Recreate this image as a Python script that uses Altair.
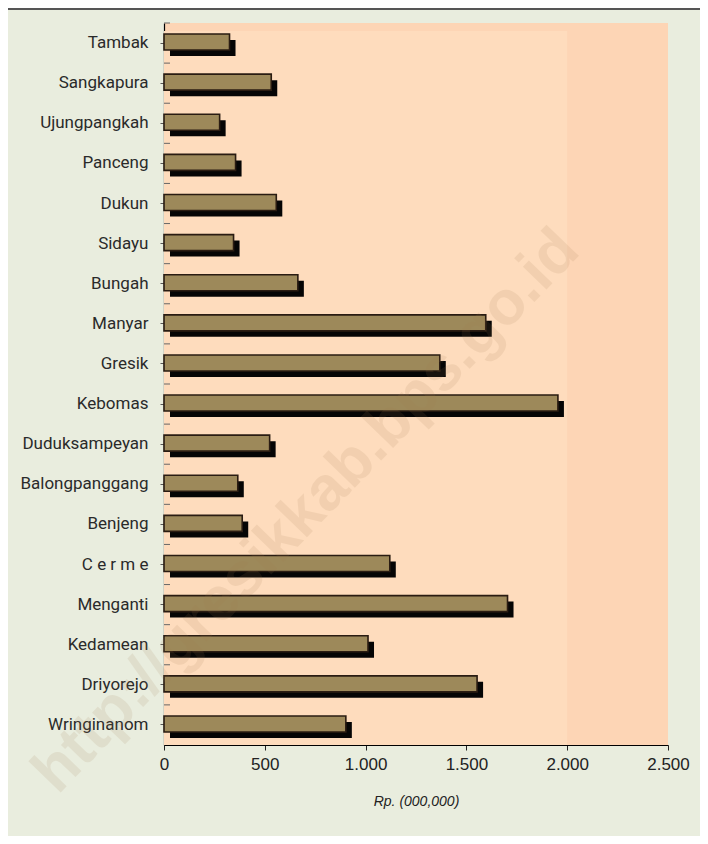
import altair as alt
import pandas as pd

categories = ["Tambak", "Sangkapura", "Ujungpangkah", "Panceng", "Dukun", "Sidayu",
              "Bungah", "Manyar", "Gresik", "Kebomas", "Duduksampeyan", "Balongpanggang",
              "Benjeng", "C e r m e", "Menganti", "Kedamean", "Driyorejo", "Wringinanom"]
values = [325, 532, 276, 355, 557, 345, 664, 1596, 1368, 1954, 524, 366, 388,
          1120, 1704, 1012, 1553, 902]
x_ticks = [0, 500, 1000, 1500, 2000, 2500]
light_zone = [0, 2000]

df = pd.DataFrame({"kec": categories, "val": values})
zone_df = pd.DataFrame({"a": [light_zone[0]], "b": [light_zone[1]]})

W, H = 504, 722

yscale = alt.Scale(domain=categories, paddingInner=0, paddingOuter=0)
xscale = alt.Scale(domain=[0, 2500], nice=False)

zone = alt.Chart(zone_df).mark_rect(color="#fedcbd").encode(
    x=alt.X("a:Q", scale=xscale),
    x2="b:Q",
    y=alt.value(8),
    y2=alt.value(H),
)

yaxis = alt.Axis(title=None, labelFont="Roboto", labelFontSize=17, labelFontWeight="normal",
                 labelColor="#2a2a2a",
                 tickSize=4, tickColor="#555", domainColor="#000", domainWidth=1.2,
                 labelPadding=12)
xaxis = alt.Axis(values=x_ticks, title="Rp. (000,000)", titleFont="Liberation Sans",
                 titleFontStyle="italic", titleFontWeight="normal", titleFontSize=14,
                 titleColor="#222", titlePadding=22,
                 labelFont="Liberation Sans", labelFontSize=17, labelColor="#222",
                 labelFlush=False,
                 labelExpr="replace(format(datum.value, ','), ',', '.')",
                 tickSize=5, tickColor="#222", domainColor="#000", domainWidth=1.2,
                 grid=False, labelPadding=6)

shadow = alt.Chart(df).mark_bar(color="#050505", size=16, xOffset=6, yOffset=5).encode(
    x=alt.X("val:Q", scale=xscale, axis=xaxis),
    y=alt.Y("kec:N", sort=categories, scale=yscale, axis=yaxis),
)

front = alt.Chart(df).mark_bar(color="#9d895a", stroke="#2a1c12", strokeWidth=1.6,
                                size=16, yOffset=-1).encode(
    x=alt.X("val:Q", scale=xscale),
    y=alt.Y("kec:N", sort=categories, scale=yscale),
)

inner_ticks = alt.Chart(df).mark_rule(color="#666", strokeWidth=1).encode(
    y=alt.Y("kec:N", sort=categories, scale=yscale, bandPosition=0),
    x=alt.value(0),
    x2=alt.value(6),
)

top_line = alt.Chart(zone_df).mark_rule(color="#555", strokeWidth=2).encode(
    y=alt.value(-14), x=alt.value(-156), x2=alt.value(540)
)

watermark = alt.Chart(zone_df).mark_text(
    text="http://gresikkab.bps.go.id", font="Liberation Sans", fontWeight="bold",
    fontSize=62, angle=314, color="#a07a50", opacity=0.12, align="center", baseline="middle"
).encode(x=alt.value(142), y=alt.value(488))

chart = alt.layer(zone, shadow, front, inner_ticks, watermark, top_line).properties(
    width=W, height=H,
    background="#e9edde",
    padding={"left": 156, "top": 15, "right": 32, "bottom": 91},
    autosize=alt.AutoSizeParams(type="none"),
).configure_view(fill="#fdd5b5", stroke=None)

chart.save("out.html", embed_options={"renderer": "svg", "actions": False})
